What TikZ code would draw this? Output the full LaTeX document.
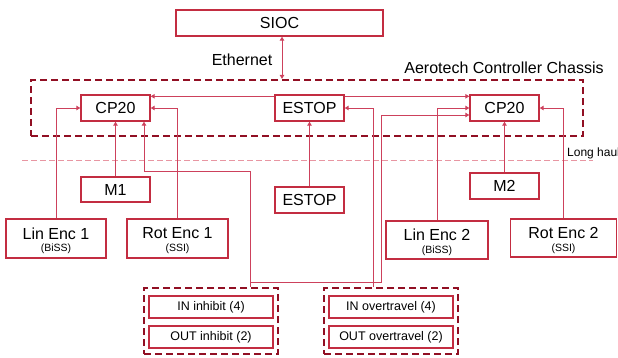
\documentclass[tikz,border=0pt]{standalone}
\usepackage{fontspec}
\setmainfont{Liberation Sans}
\usetikzlibrary{arrows.meta}
\definecolor{boxc}{RGB}{195,45,65}
\definecolor{wirec}{RGB}{205,65,92}
\definecolor{dashc}{RGB}{145,15,35}
\definecolor{pinkc}{RGB}{232,150,162}
\tikzset{
  mainfont/.style={font=\fontsize{16}{19}\selectfont},
  subfont/.style={font=\fontsize{10.5}{12}\selectfont},
  grpfont/.style={font=\fontsize{12.5}{15}\selectfont},
  redbox/.style={draw=boxc, line width=1.4pt, rectangle, inner sep=0pt, mainfont},
  smallbox/.style={draw=boxc, line width=1.4pt, rectangle, inner sep=0pt, grpfont, minimum width=124pt, minimum height=22pt},
  grpbox/.style={draw=dashc, line width=2.2pt, dash pattern=on 7pt off 4pt, rectangle, inner sep=0pt},
  wire/.style={draw=wirec, line width=1pt, -{Triangle[length=4pt,width=4.5pt]}},
  txt/.style={inner sep=0pt, text=black},
}
\begin{document}
\begin{tikzpicture}[x=1pt,y=-1pt]
\useasboundingbox (0,0) rectangle (618,357);
% chassis
\node[grpbox, minimum width=552pt, minimum height=56pt] (chassis) at (307,108) {};
\node[txt, mainfont] (chassist) at (504,67.5) {Aerotech Controller Chassis};
% top
\node[redbox, minimum width=207pt, minimum height=26pt] (sioc) at (279.5,23) {SIOC};
\node[txt, mainfont] (eth) at (242,60) {Ethernet};
% controllers
\node[redbox, minimum width=69pt, minimum height=26pt] (cp1) at (115.5,108) {CP20};
\node[redbox, minimum width=69pt, minimum height=26pt] (estop) at (309.5,108) {ESTOP};
\node[redbox, minimum width=69pt, minimum height=26pt] (cp2) at (504.5,108) {CP20};
% lower boxes
\node[redbox, minimum width=69pt, minimum height=25pt] (m1) at (115.5,189.5) {M1};
\node[redbox, minimum width=69pt, minimum height=26pt] (estop2) at (309.5,200) {ESTOP};
\node[redbox, minimum width=69pt, minimum height=26pt] (m2) at (504.5,186) {M2};
% encoders
\node[redbox, minimum width=100pt, minimum height=39pt] (lin1) at (56,238.5) {};
\node[txt, mainfont] (lin1t) at (56,233.5) {Lin Enc 1};
\node[txt, subfont] (lin1s) at (56,249) {(BiSS)};
\node[redbox, minimum width=101pt, minimum height=39pt] (rot1) at (177.5,238.5) {};
\node[txt, mainfont] (rot1t) at (177.5,233.5) {Rot Enc 1};
\node[txt, subfont] (rot1s) at (177.5,249) {(SSI)};
\node[redbox, minimum width=102pt, minimum height=38pt] (lin2) at (437,240) {};
\node[txt, mainfont] (lin2t) at (437,235) {Lin Enc 2};
\node[txt, subfont] (lin2s) at (437,250.5) {(BiSS)};
\node[redbox, minimum width=106pt, minimum height=38pt] (rot2) at (563.5,238) {};
\node[txt, mainfont] (rot2t) at (563.5,233) {Rot Enc 2};
\node[txt, subfont] (rot2s) at (563.5,248.5) {(SSI)};
% groups
\node[grpbox, minimum width=134pt, minimum height=66pt] (inhgrp) at (211,321) {};
\node[smallbox] (inin) at (211,307) {IN inhibit (4)};
\node[smallbox] (outin) at (211,337) {OUT inhibit (2)};
\node[grpbox, minimum width=134pt, minimum height=66pt] (ovgrp) at (391,321) {};
\node[smallbox] (inov) at (391,307) {IN overtravel (4)};
\node[smallbox] (outov) at (391,337) {OUT overtravel (2)};
% long haul
\draw[pinkc, line width=1pt, dash pattern=on 6pt off 3pt] (22,160) coordinate (lh1) -- (593,160) coordinate (lh2);
\node[txt, anchor=west, font=\fontsize{12}{14}\selectfont] (lh) at (567,153) {Long haul};
% connectors
\draw[wire, {Triangle[length=4pt,width=4.5pt]}-{Triangle[length=4pt,width=4.5pt]}] ([xshift=2.5pt]sioc.south) -- ([xshift=2.5pt]sioc.south |- chassis.north);
\draw[wire] ([yshift=-2pt]estop.north west) -- ([yshift=-2pt]estop.north west -| cp1.east);
\draw[wire] ([yshift=-2pt]estop.north east) -- ([yshift=-2pt]estop.north east -| cp2.west);
\draw[wire] (lin1.north) |- (cp1.west);
\draw[wire] (rot1.north) |- (cp1.east);
\draw[wire] (m1.north) -- (cp1.south);
\draw[wire] (estop2.north) -- (estop.south);
\draw[wire] (lin2.north) |- (cp2.west);
\draw[wire] (rot2.north) |- (cp2.east);
\draw[wire] (m2.north) -- (cp2.south);
\coordinate (ih) at ([xshift=39pt]inhgrp.north);
\coordinate (ov) at ([xshift=-18pt]ovgrp.north);
\draw[wire] (ih) -- (ih |- 0,171) -| ([xshift=28.5pt]cp1.south);
\draw[wire] (ih |- 0,282) -| (381,115) -- ([yshift=-7pt]cp2.west);
\draw[wire] (ov) |- (estop.east);
\end{tikzpicture}
\end{document}
